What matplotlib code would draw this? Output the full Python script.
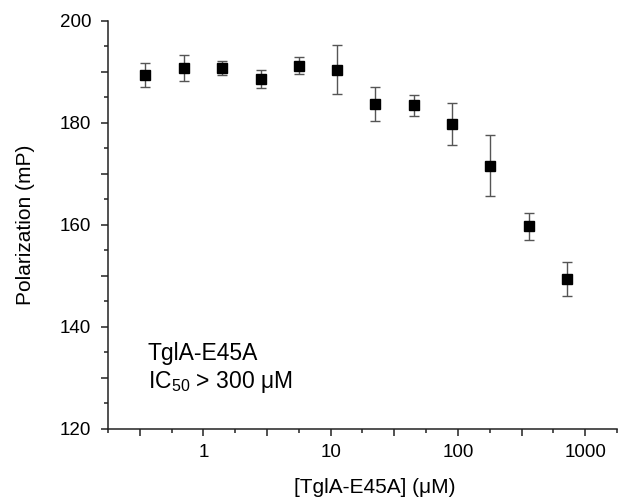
import matplotlib
matplotlib.use("Agg")
import matplotlib.pyplot as plt
from matplotlib.ticker import FixedLocator, FuncFormatter, MultipleLocator
import numpy as np

plt.rcParams['font.family'] = ['Liberation Sans', 'DejaVu Sans']
plt.rcParams['mathtext.default'] = 'regular'

# [TglA-E45A] in uM, polarization in mP
conc = [0.35, 0.70, 1.41, 2.81, 5.63, 11.3, 22.5, 45, 90, 180, 360, 720]
polar = [189.3, 190.7, 190.7, 188.6, 191.2, 190.4, 183.7, 183.4, 179.8, 171.6, 159.7, 149.4]
err = [2.35, 2.6, 1.4, 1.8, 1.6, 4.8, 3.4, 2.0, 4.1, 6.0, 2.6, 3.35]

x_ticks = [10 ** (k / 2) for k in range(-1, 7)]
x_minor = [10 ** (k / 4) for k in range(-3, 14, 2)]
x_labels = [1, 10, 100, 1000]

fig = plt.figure(figsize=(6.26, 4.99), dpi=100)
ax = fig.add_axes([0.1725, 0.1403, 0.8131, 0.8182])

ax.errorbar(conc, polar, yerr=err, fmt='none', ecolor='#555555',
            elinewidth=1.0, capsize=3.3, capthick=1.0, zorder=2)
ax.plot(conc, polar, 's', color='black', ms=7, zorder=3)

ax.set_xscale('log')
ax.set_xlim(10 ** -0.75, 10 ** 3.25)
ax.set_ylim(120, 200)

ax.xaxis.set_major_locator(FixedLocator(x_ticks))
ax.xaxis.set_minor_locator(FixedLocator(x_minor))
ax.xaxis.set_major_formatter(FuncFormatter(
    lambda v, p: '%d' % round(v) if any(abs(v - l) < 1e-6 * l for l in x_labels) else ''))
ax.xaxis.set_minor_formatter(FuncFormatter(lambda v, p: ''))

ax.yaxis.set_major_locator(MultipleLocator(10))
ax.yaxis.set_minor_locator(MultipleLocator(5))
ax.yaxis.set_major_formatter(FuncFormatter(
    lambda v, p: '%d' % v if round(v) % 20 == 0 else ''))

for s in ['top', 'right']:
    ax.spines[s].set_visible(False)
for s in ['left', 'bottom']:
    ax.spines[s].set_linewidth(1.1)
    ax.spines[s].set_color('#222222')

ax.tick_params(which='major', direction='out', length=5, width=1.1,
               color='#222222', labelsize=13.5, pad=6)
ax.tick_params(which='minor', direction='out', length=3, width=1.1, color='#222222')
ax.tick_params(axis='y', which='major', pad=7)

ax.set_xlabel('[TglA-E45A] (μM)', fontsize=15, labelpad=12)
ax.xaxis.label.set_x(0.525)
ax.set_ylabel('Polarization (mP)', fontsize=15, labelpad=18)

ax.text(0.078, 0.169, 'TglA-E45A', transform=ax.transAxes, fontsize=16.5)
ax.text(0.078, 0.10, 'IC$_{50}$ > 300 μM', transform=ax.transAxes, fontsize=16.5)

fig.savefig('out.png', dpi=100)
